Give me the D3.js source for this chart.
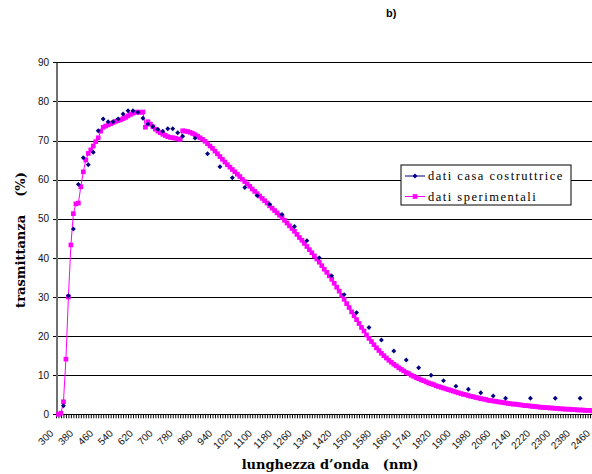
<html>
<head>
<script src="https://d3js.org/d3.v7.min.js"></script>
<style>
body { margin: 0; background: #fff; }
.grid line { stroke: #000; stroke-width: 1px; shape-rendering: crispEdges; }
.grid path { display: none; }
.yaxis path { stroke: #707070; stroke-width: 2px; shape-rendering: crispEdges; }
.yaxis line { stroke: #000; shape-rendering: crispEdges; }
.yaxis text { font-family: "Liberation Sans", Arial, sans-serif; font-size: 10px; fill: #111; }
.xaxis path { stroke: #000; stroke-width: 1px; shape-rendering: crispEdges; }
.xaxis line { stroke: #000; stroke-width: 1px; }
.xlabel { font-family: "Liberation Sans", Arial, sans-serif; font-size: 10px; fill: #111; }
.title { font-family: "DejaVu Serif", serif; font-weight: bold; font-size: 13px; fill: #000; white-space: pre; }
.legend text { font-family: "Liberation Serif", "Times New Roman", serif; font-size: 12.5px; letter-spacing: 1.5px; fill: #000; }
</style>
</head>
<body>
<svg id="chart" width="592" height="474"></svg>
<script>
// dati sperimentali (every 10 nm)
const expNm = [300,310,320,330,340,350,360,370,380,390,400,410,420,430,440,450,460,470,480,490,
  500,510,520,530,540,550,560,570,580,590,600,610,620,630,640,650,660,670,680,690,
  700,710,720,730,740,750,760,770,780,790,800,810,820,830,840,850,860,870,880,890,
  900,910,920,930,940,950,960,970,980,990,1000,1010,1020,1030,1040,1050,1060,1070,1080,1090,
  1100,1110,1120,1130,1140,1150,1160,1170,1180,1190,1200,1210,1220,1230,1240,1250,1260,1270,1280,1290,
  1300,1310,1320,1330,1340,1350,1360,1370,1380,1390,1400,1410,1420,1430,1440,1450,1460,1470,1480,1490,
  1500,1510,1520,1530,1540,1550,1560,1570,1580,1590,1600,1610,1620,1630,1640,1650,1660,1670,1680,1690,
  1700,1710,1720,1730,1740,1750,1760,1770,1780,1790,1800,1810,1820,1830,1840,1850,1860,1870,1880,1890,
  1900,1910,1920,1930,1940,1950,1960,1970,1980,1990,2000,2010,2020,2030,2040,2050,2060,2070,2080,2090,
  2100,2110,2120,2130,2140,2150,2160,2170,2180,2190,2200,2210,2220,2230,2240,2250,2260,2270,2280,2290,
  2300,2310,2320,2330,2340,2350,2360,2370,2380,2390,2400,2410,2420,2430,2440,2450,2460,2470];
const expT = [0.0,0.3,3.2,14.1,30.0,43.3,51.3,53.8,54.0,58.2,62.0,65.0,66.7,67.6,68.6,69.7,70.7,72.4,73.4,73.7,
  74.0,74.3,74.6,74.9,75.1,75.3,75.6,75.9,76.3,76.7,77.0,77.2,77.3,77.2,77.3,73.4,74.8,74.2,73.5,72.9,
  72.4,72.0,71.6,71.3,71.0,70.8,70.7,70.6,70.4,70.3,72.5,72.4,72.3,72.1,71.8,71.5,71.1,70.7,70.3,69.8,
  69.2,68.6,68.0,67.3,66.6,65.9,65.2,64.5,63.8,63.2,62.6,62.0,61.4,60.8,60.1,59.5,58.9,58.3,57.6,57.0,
  56.4,55.8,55.2,54.6,54.0,53.3,52.7,52.1,51.5,50.9,50.3,49.6,48.9,48.2,47.5,46.8,46.0,45.2,44.5,43.7,
  42.9,42.1,41.3,40.5,39.7,38.9,38.0,37.1,36.3,35.4,34.5,33.5,32.5,31.5,30.4,29.4,28.3,27.3,26.2,25.2,
  24.2,23.2,22.2,21.3,20.3,19.4,18.6,17.8,17.0,16.3,15.6,15.0,14.4,13.8,13.3,12.8,12.4,11.9,11.5,11.1,
  10.7,10.4,10.0,9.7,9.4,9.1,8.8,8.6,8.3,8.0,7.8,7.6,7.3,7.1,6.9,6.7,6.5,6.3,6.1,5.9,
  5.7,5.5,5.3,5.1,5.0,4.8,4.6,4.5,4.3,4.2,4.0,3.9,3.8,3.6,3.5,3.4,3.3,3.2,3.1,3.0,
  2.9,2.8,2.7,2.6,2.6,2.5,2.4,2.3,2.2,2.2,2.1,2.0,2.0,1.9,1.8,1.8,1.7,1.7,1.6,1.6,
  1.5,1.5,1.4,1.4,1.3,1.3,1.3,1.2,1.2,1.1,1.1,1.1,1.0,1.0,1.0,0.9,0.9,0.9];

// dati casa costruttrice
const manNm = [320,340,360,380,400,420,440,460,480,500,520,540,560,580,600,620,640,660,680,700,
  720,740,760,780,800,850,900,950,1000,1050,1100,1150,1200,1250,1300,1350,1400,1450,1500,1550,
  1600,1650,1700,1750,1800,1850,1900,1950,2000,2050,2100,2200,2300,2400];
const manT = [2.2,30.3,47.4,58.8,65.6,63.8,67.0,72.5,75.5,74.8,74.8,75.5,76.8,77.6,77.6,77.2,75.7,74.2,73.6,72.9,
  72.4,73.0,73.0,72.0,71.1,70.6,66.6,63.3,60.5,58.0,55.9,53.7,51.1,48.0,44.4,40.0,35.4,30.6,26.0,22.2,
  19.0,16.2,13.9,11.9,10.0,8.6,7.2,6.4,5.5,4.7,4.1,4.1,4.1,4.1];

const xLabels = [300,380,460,540,620,700,780,860,940,1020,1100,1180,1260,1340,1420,1500,1580,1660,1740,1820,1900,1980,2060,2140,2220,2300,2380,2460];
const yTicks = [0,10,20,30,40,50,60,70,80,90];

const svg = d3.select("#chart");
const width = +svg.attr("width");
const plotLeft = 56, plotTop = 62.3, plotBottom = 414.3;

const x = d3.scaleLinear().domain([295, 2475]).range([plotLeft, 597.5]);
const y = d3.scaleLinear().domain([0, 90]).range([plotBottom, plotTop]);

// gridlines
svg.append("g")
   .attr("class", "grid")
   .attr("transform", "translate(" + plotLeft + ",0)")
   .call(d3.axisLeft(y).tickValues(yTicks.slice(1)).tickSize(-(width - plotLeft)).tickFormat(""));

// x axis: one tick per category
svg.append("g")
   .attr("class", "xaxis")
   .attr("transform", "translate(0," + plotBottom + ")")
   .call(d3.axisBottom(x).tickValues(d3.range(295, 2476, 10)).tickSize(4).tickSizeOuter(0).tickFormat(""));

svg.selectAll(".xlabel").data(xLabels).enter()
   .append("text")
   .attr("class", "xlabel")
   .attr("text-anchor", "end")
   .attr("transform", d => "translate(" + (x(d + 5) - 4.4) + ",434) rotate(-45)")
   .text(d => d);

// y axis
svg.append("g")
   .attr("class", "yaxis")
   .attr("transform", "translate(" + plotLeft + ",0)")
   .call(d3.axisLeft(y).tickValues(yTicks).tickSize(3).tickPadding(4).tickSizeOuter(0));

// dati sperimentali
const expData = expNm.map((d, i) => ({nm: d, t: expT[i]}));
const line = d3.line().x(d => x(d.nm + 5)).y(d => y(d.t));

svg.append("path")
   .datum(expData)
   .attr("d", line)
   .style("fill", "none")
   .style("stroke", "#ff00ff")
   .style("stroke-width", 1);

svg.selectAll(".sq").data(expData).enter()
   .append("path")
   .attr("class", "sq")
   .attr("d", d3.symbol(d3.symbolSquare, 22))
   .attr("transform", d => "translate(" + x(d.nm + 5) + "," + y(d.t) + ")")
   .style("fill", "#ff00ff");

// dati casa costruttrice (markers only, gaps between points)
const manData = manNm.map((d, i) => ({nm: d, t: manT[i]}));
svg.selectAll(".dia").data(manData).enter()
   .append("path")
   .attr("class", "dia")
   .attr("d", d3.symbol(d3.symbolSquare, 12))
   .attr("transform", d => "translate(" + x(d.nm + 5) + "," + y(d.t) + ") rotate(45)")
   .style("fill", "#000080");

// axis titles
svg.append("text")
   .attr("class", "title")
   .attr("text-anchor", "middle")
   .attr("x", 330)
   .attr("y", 469)
   .text("lunghezza d\u2019onda   (nm)");

svg.append("text")
   .attr("class", "title")
   .attr("text-anchor", "middle")
   .attr("transform", "translate(25,240) rotate(-90)")
   .text("trasmittanza    (%)");

svg.append("text")
   .attr("x", 386)
   .attr("y", 17)
   .style("font-family", "Liberation Sans, Arial, sans-serif")
   .style("font-weight", "bold")
   .style("font-size", "11px")
   .text("b)");

// legend
const legend = svg.append("g").attr("class", "legend");
legend.append("rect")
   .attr("x", 401).attr("y", 165).attr("width", 170).attr("height", 40)
   .style("fill", "#fff").style("stroke", "#000").style("stroke-width", 1);

const legendItems = [
  {name: "dati casa costruttrice", color: "#000080", sym: d3.symbolSquare, size: 12, rot: 45},
  {name: "dati sperimentali", color: "#ff00ff", sym: d3.symbolSquare, size: 22, rot: 0}
];
legendItems.forEach((item, i) => {
  const cy = 176 + i * 20.5;
  legend.append("line")
     .attr("x1", 405).attr("x2", 425).attr("y1", cy).attr("y2", cy)
     .style("stroke", item.color).style("stroke-width", 1);
  legend.append("path")
     .attr("d", d3.symbol(item.sym, item.size))
     .attr("transform", "translate(415," + cy + ") rotate(" + item.rot + ")")
     .style("fill", item.color);
  legend.append("text")
     .attr("x", 428)
     .attr("y", cy + 4)
     .text(item.name);
});
</script>
</body>
</html>
